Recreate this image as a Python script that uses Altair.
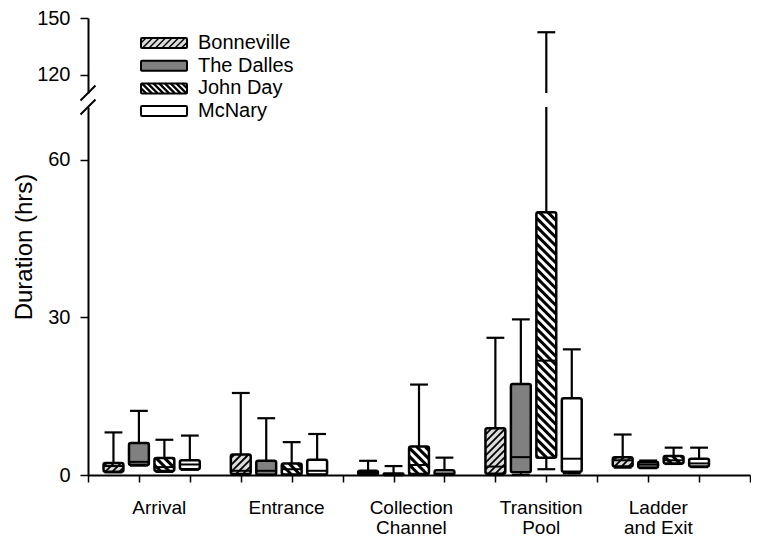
import altair as alt
import numpy as np
import pandas as pd

# ---------------- data ----------------
GROUPS = ["Arrival", "Entrance", "Collection\nChannel", "Transition\nPool", "Ladder\nand Exit"]
LABEL_POS = [2.8, 7.8, 12.7, 17.8, 22.4]
SITES = ["Bonneville", "The Dalles", "John Day", "McNary"]
FILLS = ["#dcdcdc", "#808080", "#ffffff", "#ffffff"]

# rows: groups; columns: sites (Bonneville, The Dalles, John Day, McNary)
LOW = [
    [0.5, 1.8, 0.6, 1.0],
    [0.0, 0.0, 0.0, 0.0],
    [0.0, 0.0, 0.0, 0.0],
    [0.0, 0.0, 1.1, 0.3],
    [1.4, 1.3, 2.1, 1.5],
]
Q1 = [
    [0.6, 1.9, 0.75, 1.1],
    [0.2, 0.05, 0.1, 0.1],
    [0.05, 0.02, 0.2, 0.05],
    [0.25, 0.5, 3.3, 0.6],
    [1.6, 1.4, 2.2, 1.6],
]
MED = [
    [1.7, 2.5, 1.5, 2.0],
    [0.8, 0.8, 1.1, 0.8],
    [0.4, 0.1, 1.9, 0.3],
    [1.6, 3.4, 21.75, 3.1],
    [2.8, 2.0, 2.8, 2.2],
]
Q3 = [
    [2.3, 6.1, 3.25, 2.8],
    [3.9, 2.7, 2.2, 2.9],
    [0.8, 0.3, 5.4, 0.9],
    [8.9, 17.3, 50.0, 14.6],
    [3.4, 2.5, 3.6, 3.1],
]
HIGH = [
    [8.1, 12.2, 6.7, 7.5],
    [15.6, 10.8, 6.25, 7.8],
    [2.7, 1.7, 17.2, 3.3],
    [26.1, 29.6, 142.5, 23.9],
    [7.7, 2.75, 5.2, 5.2],
]
Y_TITLE = "Duration (hrs)"

# ---------------- layout ----------------
W = 662
H_UP = 75
H_LOW = 368
GAP = 14
X_DOMAIN = [0, 26]
LOW_DOMAIN = [0, 70]
UP_DOMAIN = [110.5, 150]
BOX_HALF = 0.39
CAP_HALF = 0.35
FONT = "Liberation Sans"

# legend layout (pixels, relative to the upper plot's origin)
LEG_X0, LEG_W, LEG_H = 53, 46, 10
LEG_Y0, LEG_DY = 25, 22.7
LEG_TEXT_X = 110

rows = []
for g, gname in enumerate(GROUPS):
    for s, site in enumerate(SITES):
        pos = 5 * g + 1 + s
        rows.append(dict(group=gname, site=site, pos=pos,
                         left=pos - BOX_HALF, right=pos + BOX_HALF,
                         capl=pos - CAP_HALF, capr=pos + CAP_HALF,
                         lo=LOW[g][s], q1=Q1[g][s], med=MED[g][s],
                         q3=Q3[g][s], hi=HIGH[g][s]))
df = pd.DataFrame(rows)

SX = W / (X_DOMAIN[1] - X_DOMAIN[0])
SY = H_LOW / (LOW_DOMAIN[1] - LOW_DOMAIN[0])
SY_UP = H_UP / (UP_DOMAIN[1] - UP_DOMAIN[0])


def clip_lines(u0, u1, v0, v1, direction, step):
    """45-degree hatch segments inside [u0,u1]x[v0,v1] (v increasing upward)."""
    out = []
    if direction == "/":
        cmin, cmax = v0 - u1, v1 - u0
    else:
        cmin, cmax = u0 + v0, u1 + v1
    for k in np.arange(np.ceil(cmin / step), np.floor(cmax / step) + 1):
        c = k * step
        if direction == "/":
            ua, ub = max(u0, v0 - c), min(u1, v1 - c)
            va, vb = ua + c, ub + c
        else:
            ua, ub = max(u0, c - v1), min(u1, c - v0)
            va, vb = c - ua, c - ub
        if ub - ua > 0.4:
            out.append((ua, ub, va, vb))
    return out


def hatch(site, direction, step):
    segs = []
    for r in df[df.site == site].itertuples():
        for ua, ub, va, vb in clip_lines(r.left * SX, r.right * SX, r.q1 * SY, r.q3 * SY,
                                         direction, step):
            segs.append(dict(x=ua / SX, x2=ub / SX, y=va / SY, y2=vb / SY))
    return pd.DataFrame(segs)


hatch_b = hatch("Bonneville", "/", 7.0)
hatch_j = hatch("John Day", "\\", 8.5)

# manual legend (pixel coordinates, y downward)
leg_rows, leg_hatch_b, leg_hatch_j = [], [], []
for i, site in enumerate(SITES):
    cy = LEG_Y0 + i * LEG_DY
    y0, y1 = cy - LEG_H / 2, cy + LEG_H / 2
    leg_rows.append(dict(site=site, x=LEG_X0, x2=LEG_X0 + LEG_W, y=y0, y2=y1,
                         ty=cy, tx=LEG_TEXT_X))
    if site in ("Bonneville", "John Day"):
        direction = "/" if site == "Bonneville" else "\\"
        step = 6.5 if site == "Bonneville" else 5.75
        for ua, ub, va, vb in clip_lines(LEG_X0, LEG_X0 + LEG_W, -y1, -y0, direction, step):
            seg = dict(x=ua, x2=ub, y=-va, y2=-vb)
            (leg_hatch_b if site == "Bonneville" else leg_hatch_j).append(seg)
leg_df = pd.DataFrame(leg_rows)
leg_hb = pd.DataFrame(leg_hatch_b)
leg_hj = pd.DataFrame(leg_hatch_j)

xs = alt.Scale(domain=X_DOMAIN, nice=False, zero=False)
ys_low = alt.Scale(domain=LOW_DOMAIN, nice=False, zero=False)
ys_up = alt.Scale(domain=UP_DOMAIN, nice=False, zero=False)
fill_scale = alt.Scale(domain=SITES, range=FILLS)

x_axis = alt.Axis(values=list(range(X_DOMAIN[0], X_DOMAIN[1] + 1)), labels=False,
                  ticks=True, tickSize=7, title=None, grid=False)
y_axis_low = alt.Axis(values=[0, 30, 60], tickSize=8, labelPadding=10, grid=False,
                      title=Y_TITLE, titleX=-64, titleY=(18 + 475) / 2 - 107,
                      titleAngle=270, titleBaseline="middle", titleAlign="center")
y_axis_up = alt.Axis(values=[120, 150], tickSize=8, labelPadding=10, grid=False, title=None)


def X(f):
    return alt.X(f"{f}:Q", title=None)


def Y(f):
    return alt.Y(f"{f}:Q", title=Y_TITLE)


def YU(f):
    return alt.Y(f"{f}:Q", title=None)


# ---------------- lower panel ----------------
base = alt.Chart(df)
box_fill = base.mark_rect().encode(
    x=alt.X("left:Q", scale=xs, axis=x_axis),
    x2="right:Q",
    y=alt.Y("q1:Q", scale=ys_low, axis=y_axis_low),
    y2="q3:Q",
    fill=alt.Fill("site:N", scale=fill_scale, legend=None),
)
hb = alt.Chart(hatch_b).mark_rule(color="black", strokeWidth=1.8).encode(
    x=X("x"), x2="x2:Q", y=Y("y"), y2="y2:Q")
hj = alt.Chart(hatch_j).mark_rule(color="black", strokeWidth=3).encode(
    x=X("x"), x2="x2:Q", y=Y("y"), y2="y2:Q")
median = base.mark_rule(color="black", strokeWidth=2).encode(
    x=X("left"), x2="right:Q", y=Y("med"))
outline = base.mark_rect(fillOpacity=0, stroke="black", strokeWidth=2.5, cornerRadius=2).encode(
    x=X("left"), x2="right:Q", y=Y("q1"), y2="q3:Q")
wh_hi = base.mark_rule(color="black", strokeWidth=2.2, clip=True).encode(
    x=X("pos"), y=Y("q3"), y2="hi:Q")
wh_lo = base.mark_rule(color="black", strokeWidth=2.2).encode(
    x=X("pos"), y=Y("lo"), y2="q1:Q")
cap_hi = base.mark_rule(color="black", strokeWidth=2.2, clip=True).encode(
    x=X("capl"), x2="capr:Q", y=Y("hi"))
cap_lo = base.mark_rule(color="black", strokeWidth=2.2).encode(
    x=X("capl"), x2="capr:Q", y=Y("lo"))

s_x = 7.5 / SX
slash_low_df = pd.DataFrame({"x": [-s_x], "x2": [s_x],
                             "y": [LOW_DOMAIN[1] - 7.5 / SY], "y2": [LOW_DOMAIN[1] + 7.5 / SY]})
slash_low = alt.Chart(slash_low_df).mark_rule(color="black", strokeWidth=2).encode(
    x=X("x"), x2="x2:Q", y=Y("y"), y2="y2:Q")

labels_df = pd.DataFrame({"label": GROUPS, "pos": LABEL_POS})
labels = alt.Chart(labels_df).mark_text(
    lineBreak="\n", baseline="top", align="center", fontSize=19, lineHeight=20,
    font=FONT, color="black").encode(
    x=X("pos"), y=alt.value(H_LOW + 24), text="label:N")

lower = alt.layer(box_fill, hb, hj, median, outline, wh_hi, wh_lo, cap_hi, cap_lo,
                  slash_low, labels).properties(width=W, height=H_LOW)

# ---------------- upper panel ----------------
wh_hi_up = base.mark_rule(color="black", strokeWidth=2.2, clip=True).encode(
    x=alt.X("pos:Q", scale=xs, axis=None),
    y=alt.Y("q3:Q", scale=ys_up, axis=y_axis_up), y2="hi:Q")
cap_hi_up = base.mark_rule(color="black", strokeWidth=2.2, clip=True).encode(
    x=alt.X("capl:Q", axis=None), x2="capr:Q", y=YU("hi"))
slash_up_df = pd.DataFrame({"x": [-s_x], "x2": [s_x],
                            "y": [UP_DOMAIN[0] - 7.5 / SY_UP], "y2": [UP_DOMAIN[0] + 7.5 / SY_UP]})
slash_up = alt.Chart(slash_up_df).mark_rule(color="black", strokeWidth=2).encode(
    x=alt.X("x:Q", axis=None), x2="x2:Q", y=YU("y"), y2="y2:Q")

PX = dict(scale=None)
leg_fill = alt.Chart(leg_df).mark_rect().encode(
    x=alt.X("x:Q", **PX), x2="x2:Q", y=alt.Y("y:Q", **PX), y2="y2:Q",
    fill=alt.Fill("site:N", scale=fill_scale, legend=None))
leg_b = alt.Chart(leg_hb).mark_rule(color="black", strokeWidth=1.5).encode(
    x=alt.X("x:Q", **PX), x2="x2:Q", y=alt.Y("y:Q", **PX), y2="y2:Q")
leg_j = alt.Chart(leg_hj).mark_rule(color="black", strokeWidth=2.2).encode(
    x=alt.X("x:Q", **PX), x2="x2:Q", y=alt.Y("y:Q", **PX), y2="y2:Q")
leg_out = alt.Chart(leg_df).mark_rect(fillOpacity=0, stroke="black", strokeWidth=2,
                                      cornerRadius=1).encode(
    x=alt.X("x:Q", **PX), x2="x2:Q", y=alt.Y("y:Q", **PX), y2="y2:Q")
leg_txt = alt.Chart(leg_df).mark_text(align="left", baseline="middle", fontSize=20,
                                      font=FONT, color="black").encode(
    x=alt.X("tx:Q", **PX), y=alt.Y("ty:Q", **PX), text="site:N")

upper = alt.layer(wh_hi_up, cap_hi_up, slash_up, leg_fill, leg_b, leg_j, leg_out,
                  leg_txt).properties(width=W, height=H_UP)

chart = alt.vconcat(upper, lower, spacing=GAP, bounds="flush").properties(
    padding={"left": 4, "top": 0, "right": 0, "bottom": 0}
).configure_view(stroke=None).configure_axis(
    labelFont=FONT, labelFontSize=20, labelColor="black",
    titleFont=FONT, titleFontSize=24, titleColor="black", titleFontWeight="normal",
    domainColor="black", domainWidth=2, tickColor="black", tickWidth=1.5,
)

chart.save("out.html", embed_options={"renderer": "svg", "actions": False})
